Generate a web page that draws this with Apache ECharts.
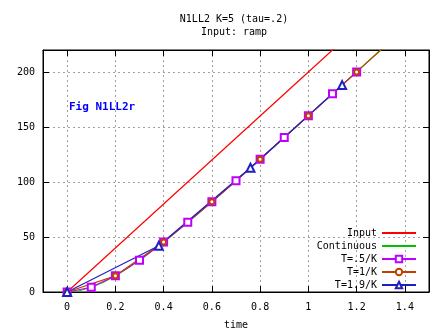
<!DOCTYPE html>
<html><head><meta charset="utf-8">
<script src="https://cdn.jsdelivr.net/npm/echarts@6/dist/echarts.min.js"></script>
<style>html,body{margin:0;padding:0;background:#fff}#c{width:447px;height:335px}</style>
</head><body><div id="c"></div>
<script>
var xTicks = [0, 0.2, 0.4, 0.6, 0.8, 1, 1.2, 1.4];
var yTicks = [0, 50, 100, 150, 200];
var inputData = [[0, 0], [0.5, 100], [1, 200], [1.5, 300]];
var continuousData = [[0,0],[0.05,1.15],[0.1,4.3],[0.15,8.9],[0.2,14.7],[0.25,21.5],[0.3,28.9],[0.35,37.0],[0.4,45.4],[0.45,54.2],[0.5,63.3],[0.55,72.6],[0.6,82.0],[0.7,101.2],[0.8,120.7],[0.9,140.4],[1.0,160.3],[1.1,180.2],[1.2,200.1],[1.3,220.0],[1.4,240.0]];
var t05Data = [[0,0],[0.1,4.3],[0.2,14.7],[0.3,28.9],[0.4,45.4],[0.5,63.3],[0.6,82.0],[0.7,101.2],[0.8,120.7],[0.9,140.4],[1.0,160.3],[1.1,180.2],[1.2,200.1]];
var t1Data = [[0,0],[0.2,14.7],[0.4,45.4],[0.6,82.0],[0.8,120.7],[1.0,160.3],[1.2,200.1],[1.4,240.0]];
var t19Data = [[0,0],[0.38,42.0],[0.76,112.9],[1.14,188.1]];

var FONT = '"DejaVu Sans Mono", "Liberation Mono", monospace';
var chart = echarts.init(document.getElementById('c'), null, {renderer: 'canvas'});
function mirrorAxis(pos, isX) {
  return {
    type: 'value', position: pos,
    min: isX ? -0.1 : 0, max: isX ? 1.5 : 220,
    axisLine: {show: true, onZero: false, lineStyle: {color: '#000', width: 1}},
    axisTick: {show: true, inside: true, length: 6, lineStyle: {color: '#000'}, customValues: isX ? xTicks : yTicks},
    axisLabel: {show: false},
    splitLine: {show: false}
  };
}
var hideSym = {color: 'transparent', borderColor: 'transparent', opacity: 0};
var LW = 1.2;
var option = {
  animation: false,
  backgroundColor: '#fff',
  title: {
    text: 'N1LL2 K=5 (tau=.2)\nInput: ramp',
    left: 229, top: 8, textAlign: 'center',
    textStyle: {fontFamily: FONT, fontSize: 10, fontWeight: 'normal', color: '#000', lineHeight: 13}
  },
  graphic: [{
    type: 'text', left: 69, top: 102,
    style: {text: 'Fig N1LL2r', fill: '#0000ff', font: 'bold 11px ' + FONT}
  }],
  grid: {left: 43, right: 18, top: 50, bottom: 39, show: true, borderColor: '#000', borderWidth: 1, containLabel: false},
  legend: {
    orient: 'vertical', right: 25, top: 223, align: 'right',
    itemWidth: 34, itemHeight: 8, itemGap: 3,
    textStyle: {fontFamily: FONT, fontSize: 10, color: '#000'},
    data: [
      {name: 'Input', itemStyle: hideSym},
      {name: 'Continuous', itemStyle: hideSym},
      'T=.5/K', 'T=1/K', 'T=1.9/K'
    ]
  },
  xAxis: [{
    type: 'value', min: -0.1, max: 1.5, position: 'bottom',
    name: 'time', nameLocation: 'middle', nameGap: 28,
    nameTextStyle: {fontFamily: FONT, fontSize: 10, color: '#000'},
    axisLine: {show: true, onZero: false, lineStyle: {color: '#000', width: 1}},
    axisTick: {show: true, inside: true, length: 6, lineStyle: {color: '#000'}, customValues: xTicks},
    axisLabel: {show: true, customValues: xTicks, margin: 10, fontFamily: FONT, fontSize: 10, color: '#000'},
    splitLine: {show: true, lineStyle: {color: '#a0a0a0', type: [2, 3], width: 1}}
  }, mirrorAxis('top', true)],
  yAxis: [{
    type: 'value', min: 0, max: 220, position: 'left',
    axisLine: {show: true, onZero: false, lineStyle: {color: '#000', width: 1}},
    axisTick: {show: true, inside: true, length: 6, lineStyle: {color: '#000'}, customValues: yTicks},
    axisLabel: {show: true, customValues: yTicks, margin: 8, fontFamily: FONT, fontSize: 10, color: '#000'},
    splitLine: {show: true, lineStyle: {color: '#a0a0a0', type: [2, 3], width: 1}}
  }, mirrorAxis('right', false)],
  series: [
    {name: 'Input', type: 'line', data: inputData, showSymbol: false, symbol: 'none', lineStyle: {color: '#ff0000', width: LW}, itemStyle: {color: '#ff0000'}, clip: true},
    {name: 'Continuous', type: 'line', data: continuousData, showSymbol: false, symbol: 'none', lineStyle: {color: '#00c000', width: LW}, itemStyle: {color: '#00c000'}, clip: true},
    {name: 'T=.5/K', type: 'line', data: t05Data, symbol: 'emptyRect', symbolSize: 7, lineStyle: {color: '#c000ff', width: LW}, itemStyle: {color: '#c000ff', borderWidth: 1}, clip: true},
    {name: 'T=1/K', type: 'line', data: t1Data, symbol: 'emptyCircle', symbolSize: 5, lineStyle: {color: '#c04000', width: LW}, itemStyle: {color: '#c04000', borderWidth: 1}, clip: true},
    {name: 'T=1.9/K', type: 'line', data: t19Data, symbol: 'emptyTriangle', symbolSize: 8, lineStyle: {color: '#2020c0', width: LW}, itemStyle: {color: '#2020c0', borderWidth: 1}, clip: true}
  ]
};
chart.setOption(option);
</script></body></html>
